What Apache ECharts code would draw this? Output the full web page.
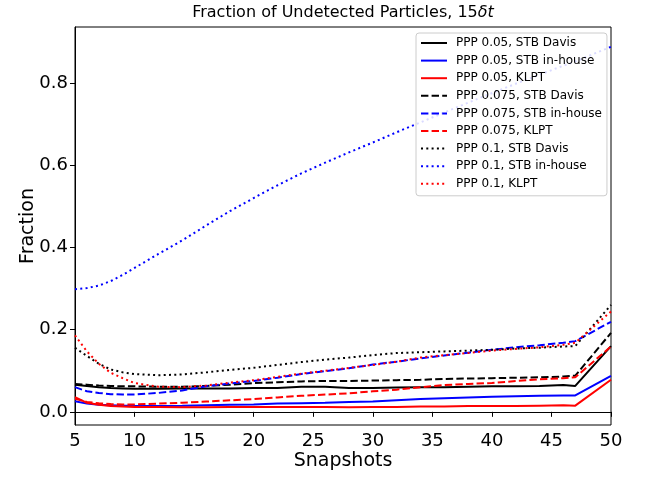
<!DOCTYPE html>
<html>
<head>
<meta charset="utf-8">
<script src="https://cdn.jsdelivr.net/npm/echarts@6/dist/echarts.min.js"></script>
<style>html,body{margin:0;padding:0;background:#fff;}#c{width:651px;height:477px;}</style>
</head>
<body>
<div id="c"></div>
<script>
const snapshots = [5,6,7,8,9,10,12,14,16,18,20,22,24,26,28,30,32,34,36,38,40,42,44,46,47,50];

const ppp005Davis   = [0.066,0.063,0.060,0.058,0.057,0.056,0.056,0.057,0.057,0.057,0.058,0.058,0.061,0.061,0.058,0.058,0.059,0.060,0.060,0.061,0.062,0.062,0.063,0.065,0.063,0.160];
const ppp005InHouse = [0.026,0.020,0.017,0.016,0.015,0.0146,0.0145,0.015,0.016,0.017,0.018,0.020,0.021,0.022,0.024,0.025,0.028,0.031,0.033,0.035,0.037,0.038,0.039,0.040,0.040,0.0875];
const ppp005KLPT    = [0.036,0.022,0.017,0.014,0.013,0.012,0.012,0.011,0.011,0.012,0.012,0.012,0.012,0.012,0.011,0.012,0.012,0.013,0.013,0.014,0.014,0.014,0.015,0.016,0.015,0.078];
const ppp0075Davis   = [0.068,0.066,0.064,0.063,0.062,0.062,0.061,0.061,0.063,0.066,0.070,0.072,0.074,0.075,0.075,0.076,0.077,0.078,0.080,0.081,0.082,0.083,0.084,0.086,0.088,0.192];
const ppp0075InHouse = [0.060,0.050,0.046,0.043,0.042,0.042,0.046,0.052,0.062,0.069,0.075,0.083,0.092,0.099,0.106,0.115,0.122,0.130,0.137,0.144,0.151,0.157,0.162,0.168,0.172,0.219];
const ppp0075KLPT    = [0.032,0.024,0.021,0.019,0.018,0.018,0.020,0.022,0.025,0.028,0.031,0.035,0.039,0.042,0.045,0.050,0.054,0.060,0.065,0.068,0.070,0.075,0.079,0.082,0.084,0.159];
const ppp01Davis   = [0.156,0.136,0.117,0.103,0.096,0.092,0.089,0.091,0.096,0.102,0.107,0.114,0.121,0.127,0.132,0.138,0.143,0.145,0.147,0.149,0.151,0.154,0.156,0.159,0.160,0.260];
const ppp01InHouse = [0.298,0.301,0.307,0.318,0.333,0.350,0.384,0.417,0.453,0.488,0.520,0.551,0.580,0.606,0.631,0.655,0.680,0.704,0.728,0.752,0.775,0.798,0.820,0.842,0.852,0.888];
const ppp01KLPT    = [0.186,0.147,0.117,0.095,0.082,0.070,0.061,0.060,0.064,0.071,0.077,0.085,0.093,0.100,0.107,0.114,0.122,0.132,0.138,0.143,0.149,0.153,0.157,0.163,0.168,0.244];

const xTicks = [5,10,15,20,25,30,35,40,45,50];
const yTicks = [0.0,0.2,0.4,0.6,0.8];

const FONT = 'DejaVu Sans';
const DASH = [7.4, 3.2];
const DOT = [2, 3.3];

function mk(name, vals, color, type) {
  return {
    name: name,
    type: 'line',
    data: snapshots.map((x, i) => [x, vals[i]]),
    symbol: 'none',
    showSymbol: false,
    silent: true,
    animation: false,
    lineStyle: { color: color, width: 2, type: type, cap: 'butt' },
    itemStyle: { color: color }
  };
}

const series = [
  mk('PPP 0.05, STB Davis', ppp005Davis, '#000000', 'solid'),
  mk('PPP 0.05, STB in-house', ppp005InHouse, '#0000ff', 'solid'),
  mk('PPP 0.05, KLPT', ppp005KLPT, '#ff0000', 'solid'),
  mk('PPP 0.075, STB Davis', ppp0075Davis, '#000000', DASH),
  mk('PPP 0.075, STB in-house', ppp0075InHouse, '#0000ff', DASH),
  mk('PPP 0.075, KLPT', ppp0075KLPT, '#ff0000', DASH),
  mk('PPP 0.1, STB Davis', ppp01Davis, '#000000', DOT),
  mk('PPP 0.1, STB in-house', ppp01InHouse, '#0000ff', DOT),
  mk('PPP 0.1, KLPT', ppp01KLPT, '#ff0000', DOT)
];

const chart = echarts.init(document.getElementById('c'), null, { renderer: 'canvas' });
chart.setOption({
  animation: false,
  backgroundColor: '#ffffff',
  textStyle: { fontFamily: FONT },
  graphic: [{
    type: 'text',
    x: 343, y: 13,
    silent: true,
    style: {
      text: 'Fraction of Undetected Particles, 15{i|δt}',
      fontFamily: FONT, fontSize: 16, fill: '#000',
      align: 'center', verticalAlign: 'middle',
      rich: { i: { fontFamily: FONT, fontSize: 16, fontStyle: 'italic', fill: '#000' } }
    }
  }],
  grid: {
    left: 75, right: 40, top: 27, bottom: 52,
    show: true, borderColor: '#000', borderWidth: 1, backgroundColor: 'transparent'
  },
  legend: {
    orient: 'vertical',
    left: 416, top: 33,
    padding: [4, 5, 6, 4],
    backgroundColor: 'rgba(255,255,255,0.85)',
    borderColor: '#cccccc', borderWidth: 1, borderRadius: 3,
    itemWidth: 26, itemHeight: 10, itemGap: 5.6,
    itemStyle: { opacity: 0, borderWidth: 0 },
    textStyle: { fontFamily: FONT, fontSize: 12, color: '#000', padding: [0, 0, 0, 4] },
    data: series.map(s => s.name)
  },
  xAxis: {
    type: 'value',
    min: 5, max: 50,
    name: 'Snapshots',
    nameLocation: 'middle',
    nameGap: 27,
    nameMoveOverlap: false,
    nameTextStyle: { fontFamily: FONT, fontSize: 19, color: '#000', verticalAlign: 'top' },
    axisLine: { show: true, lineStyle: { color: '#000', width: 1 } },
    axisTick: { show: true, inside: false, length: 5, lineStyle: { color: '#000' }, customValues: xTicks },
    axisLabel: { show: true, margin: 7, fontFamily: FONT, fontSize: 18, color: '#000', customValues: xTicks },
    splitLine: { show: false }
  },
  yAxis: {
    type: 'value',
    min: -0.032, max: 0.936,
    name: 'Fraction',
    nameLocation: 'middle',
    nameGap: 37,
    nameMoveOverlap: false,
    nameTextStyle: { fontFamily: FONT, fontSize: 19, color: '#000' },
    axisLine: { show: true, lineStyle: { color: '#000', width: 1 } },
    axisTick: { show: true, inside: false, length: 5, lineStyle: { color: '#000' }, customValues: yTicks },
    axisLabel: { show: true, margin: 7, fontFamily: FONT, fontSize: 18, color: '#000', customValues: yTicks,
      formatter: v => Number(v).toFixed(1) },
    splitLine: { show: false }
  },
  series: series
});
</script>
</body>
</html>
